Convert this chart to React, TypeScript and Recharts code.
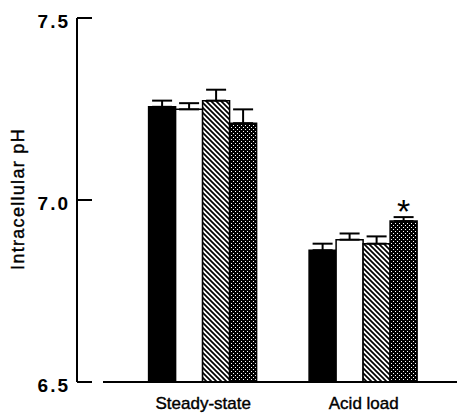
import { Bar, BarChart, ErrorBar, LabelList, XAxis, YAxis } from "recharts";

const GROUPS = ["Steady-state", "Acid load"];

// four bar series, read left to right inside each group
const SOLID = [7.256, 6.862];
const SOLID_ERR = [0.017, 0.018];
const OPEN = [7.249, 6.891];
const OPEN_ERR = [0.017, 0.017];
const HATCHED = [7.273, 6.88];
const HATCHED_ERR = [0.03, 0.02];
const DOTTED = [7.211, 6.942];
const DOTTED_ERR = [0.038, 0.011];
const DOTTED_SIG = ["", "*"];

const Y_TICKS = [6.5, 7.0, 7.5];

// only the upper half of each error bar is drawn
const data = GROUPS.map((group, i) => ({
  group,
  solid: SOLID[i],
  solidErr: [0, SOLID_ERR[i]],
  open: OPEN[i],
  openErr: [0, OPEN_ERR[i]],
  hatched: HATCHED[i],
  hatchedErr: [0, HATCHED_ERR[i]],
  dotted: DOTTED[i],
  dottedErr: [0, DOTTED_ERR[i]],
  sig: DOTTED_SIG[i],
}));

function YTick({ x, y, payload }: any) {
  return (
    <g>
      <line x1={x + 9} x2={x + 24} y1={y} y2={y} stroke="#000" strokeWidth={2} />
      <text
        x={x + 2}
        y={y}
        dy={10}
        textAnchor="end"
        fontSize={19}
        fontWeight={700}
        letterSpacing={2}
        fill="#000"
      >
        {Number(payload.value).toFixed(1)}
      </text>
    </g>
  );
}

function YLabel() {
  return (
    <text
      x={24}
      y={199}
      transform="rotate(-90 24 199)"
      textAnchor="middle"
      fontSize={18}
      letterSpacing={1.3}
      fill="#000"
      stroke="#000"
      strokeWidth={0.4}
    >
      Intracellular pH
    </text>
  );
}

function Star({ x, y, width, value }: any) {
  if (!value) return null;
  return (
    <text x={x + width / 2} y={y + 2} textAnchor="middle" fontSize={34} fill="#000">
      {value}
    </text>
  );
}

const barStroke = { stroke: "#000", strokeWidth: 1.5 };
const errProps = { width: 10, stroke: "#000", strokeWidth: 2 };

export default function App() {
  return (
    <div
      style={{
        position: "absolute",
        left: 0,
        top: 0,
        width: 457,
        height: 413,
        background: "#fff",
        fontFamily: "'Liberation Sans', Arial, sans-serif",
      }}
    >
      <svg width={0} height={0} style={{ position: "absolute" }}>
        <defs>
          <pattern id="hatch" width={5} height={5} patternUnits="userSpaceOnUse">
            <rect width={5} height={5} fill="#fff" />
            <path
              d="M-1,-1 L6,6 M-1,4 L1,6 M4,-1 L6,1"
              stroke="#000"
              strokeWidth={1.7}
            />
          </pattern>
          <pattern id="dots" width={4} height={4} patternUnits="userSpaceOnUse">
            <rect width={4} height={4} fill="#000" />
            <rect x={1} y={1} width={1} height={1} fill="#fff" shapeRendering="crispEdges" />
            <rect x={3} y={3} width={1} height={1} fill="#fff" shapeRendering="crispEdges" />
          </pattern>
        </defs>
      </svg>
      <BarChart
        width={457}
        height={413}
        data={data}
        margin={{ top: 18, right: 0, bottom: 0, left: 0 }}
        barCategoryGap={25.6}
        barGap={0}
      >
        <XAxis
          dataKey="group"
          height={31}
          padding={{ left: 46, right: 13 }}
          axisLine={{ stroke: "#000", strokeWidth: 2, strokeDasharray: "15 11 1000" }}
          tickLine={false}
          tickSize={0}
          tickMargin={15}
          tick={{ fontSize: 17, fill: "#000", stroke: "#000", strokeWidth: 0.4 }}
        />
        <YAxis
          width={77}
          domain={[6.5, 7.5]}
          ticks={Y_TICKS}
          axisLine={{ stroke: "#000", strokeWidth: 2 }}
          tickLine={false}
          tickSize={0}
          tickMargin={9}
          tick={<YTick />}
          label={{ content: <YLabel /> }}
        />
        <Bar dataKey="solid" fill="#000" {...barStroke} isAnimationActive={false}>
          <ErrorBar dataKey="solidErr" {...errProps} />
        </Bar>
        <Bar dataKey="open" fill="#fff" {...barStroke} isAnimationActive={false}>
          <ErrorBar dataKey="openErr" {...errProps} />
        </Bar>
        <Bar dataKey="hatched" fill="url(#hatch)" {...barStroke} isAnimationActive={false}>
          <ErrorBar dataKey="hatchedErr" {...errProps} />
        </Bar>
        <Bar dataKey="dotted" fill="url(#dots)" {...barStroke} isAnimationActive={false}>
          <ErrorBar dataKey="dottedErr" {...errProps} />
          <LabelList dataKey="sig" content={<Star />} />
        </Bar>
      </BarChart>
    </div>
  );
}
